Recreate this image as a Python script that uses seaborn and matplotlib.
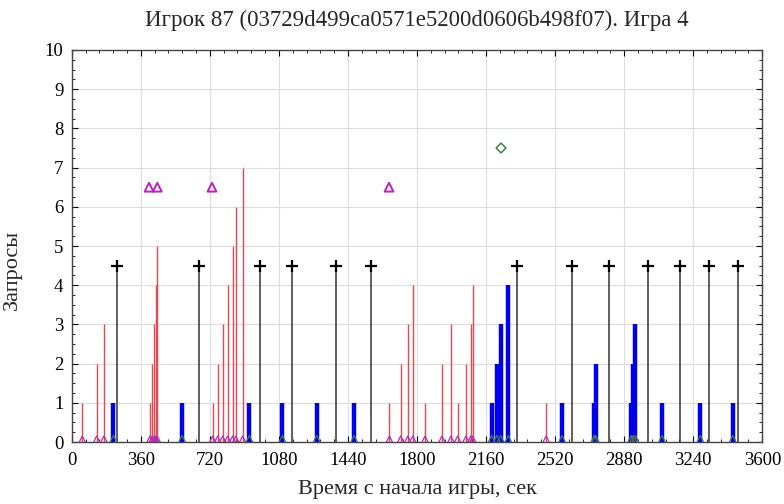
import numpy as np
import pandas as pd
import matplotlib
matplotlib.use("Agg")
import matplotlib.pyplot as plt
import seaborn as sns
from matplotlib.ticker import MultipleLocator

# Красные линии: отдельные запросы (время, высота)
red_t = [55, 130, 168, 408, 420, 431, 438, 446, 735, 761, 787, 813, 839, 855, 891,
         1656, 1715, 1752, 1778, 1842, 1930, 1977, 2012, 2055, 2080, 2090, 2473]
red_h = [1, 2, 3, 1, 2, 3, 4, 5, 1, 2, 3, 4, 5, 6, 7,
         1, 2, 3, 4, 1, 2, 3, 1, 2, 3, 4, 1]

# Синие столбцы
blue_t = [217, 575, 926, 1098, 1277, 1472, 2189, 2216, 2236, 2276,
          2556, 2724, 2732, 2916, 2928, 2938, 3077, 3277, 3446]
blue_h = [1, 1, 1, 1, 1, 1, 1, 2, 3, 4,
          1, 1, 2, 1, 2, 3, 1, 1, 1]

# Чёрные линии с крестиком
black_t = [238, 665, 983, 1150, 1376, 1559, 2320, 2610, 2803, 3006, 3173, 3321, 3472]
black_h = 4.5

# Треугольники и ромб
tri_t = [403, 446, 731, 1654]
tri_h = 6.5
dia_t = [2238]
dia_h = 7.5

sns.set_style("whitegrid")
plt.rcParams["font.family"] = ["Liberation Serif", "DejaVu Serif"]

fig = plt.figure(figsize=(7.84, 5.04), dpi=100)
ax = fig.add_axes([0.0915, 0.123, 0.8808, 0.7778])

ax.vlines(red_t, 0, red_h, color="#e8474f", linewidth=1.0, zorder=3)
ax.vlines(blue_t, 0, blue_h, color="#0000ee", linewidth=3.2, zorder=3)
ax.vlines(black_t, 0, black_h, color="#333333", linewidth=1.1, zorder=3)

sns.scatterplot(x=black_t, y=[black_h] * len(black_t), marker="+", s=70,
                color="black", linewidth=1.6, ax=ax, zorder=5)
sns.scatterplot(x=tri_t, y=[tri_h] * len(tri_t), marker="^", s=40,
                facecolor="none", edgecolor="#c020c0", linewidth=1.4, ax=ax, zorder=5)
sns.scatterplot(x=dia_t, y=[dia_h] * len(dia_t), marker="D", s=25,
                facecolor="none", edgecolor="#2e7d2e", linewidth=1.0, ax=ax, zorder=5)
# маркеры у основания (чуть выше оси, чтобы не обрезались)
base = 0.07
sns.scatterplot(x=red_t, y=[base] * len(red_t), marker="^", s=22,
                facecolor="none", edgecolor="#b030b0", linewidth=0.9, ax=ax, zorder=6)
sns.scatterplot(x=blue_t, y=[base] * len(blue_t), marker="^", s=30,
                facecolor="none", edgecolor="#4a7a4a", linewidth=0.9, ax=ax, zorder=6)

ax.set_xlim(0, 3600)
ax.set_ylim(0, 10)
ax.xaxis.set_major_locator(MultipleLocator(360))
ax.xaxis.set_minor_locator(MultipleLocator(72))
ax.yaxis.set_major_locator(MultipleLocator(1))
ax.yaxis.set_minor_locator(MultipleLocator(0.25))
ax.tick_params(which="both", direction="in", top=True, right=True,
               bottom=True, left=True, labelsize=13.5, colors="black")
ax.tick_params(which="major", length=4)
ax.tick_params(which="minor", length=2)
ax.tick_params(axis="x", which="major", pad=7)
ax.tick_params(axis="y", which="major", pad=6)
ax.grid(True, which="major", color="#dddddd", linewidth=0.8)
for s in ax.spines.values():
    s.set_color("#444444")
    s.set_linewidth(1.0)

ax.set_title("Игрок 87 (03729d499ca0571e5200d0606b498f07). Игра 4",
             fontsize=16.5, pad=17)
ax.set_xlabel("Время с начала игры, сек", fontsize=16, labelpad=8)
ax.set_ylabel("Запросы", fontsize=16)
ax.yaxis.set_label_coords(-0.072, 0.44)

fig.savefig("out.png", dpi=100)
